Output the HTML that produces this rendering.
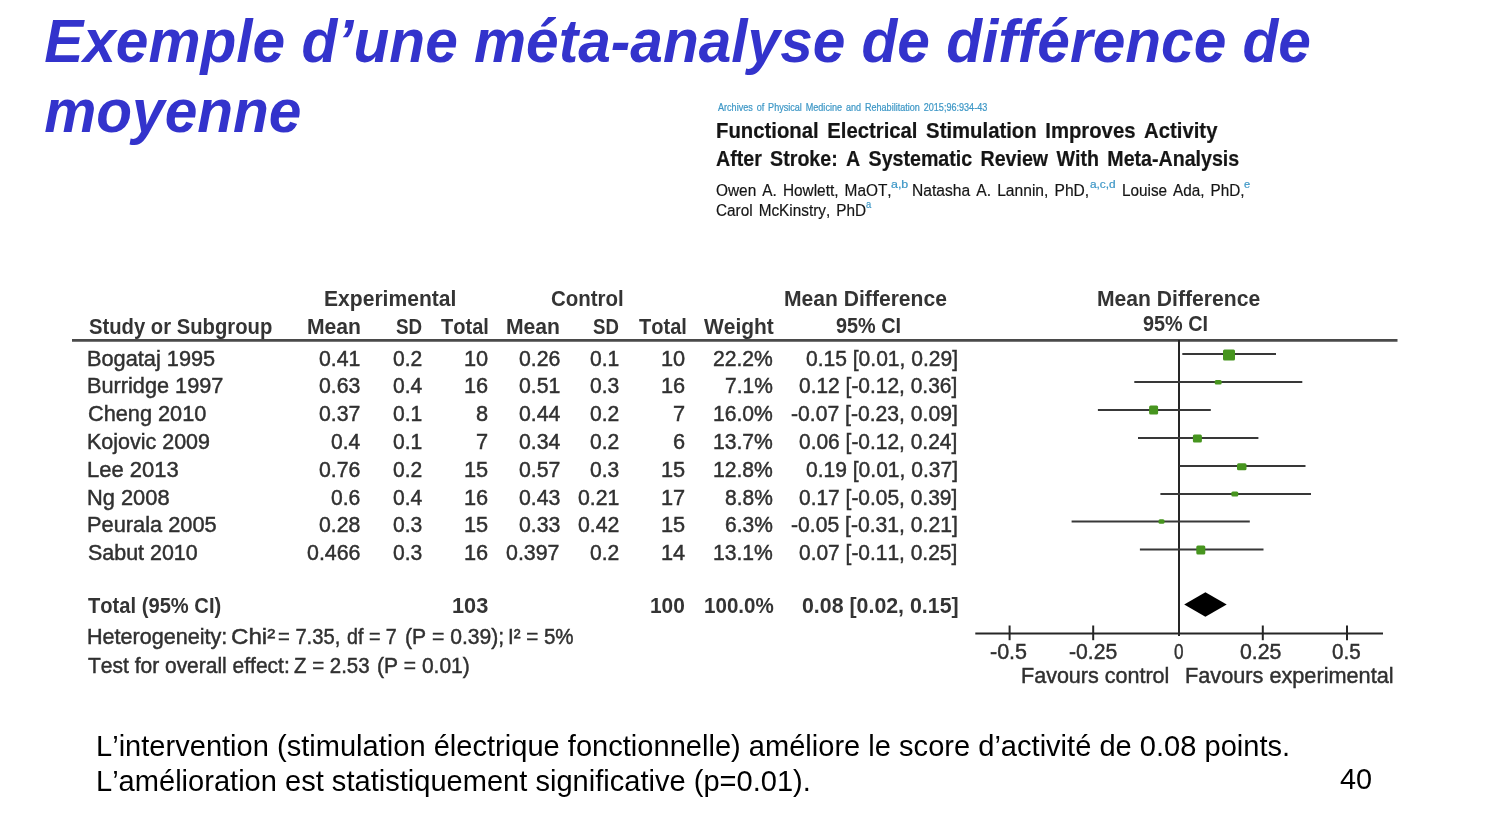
<!DOCTYPE html>
<html><head><meta charset="utf-8"><title>Slide 40</title>
<style>
html,body{margin:0;padding:0;background:#fff;}
body{width:1500px;height:827px;position:relative;overflow:hidden;font-family:"Liberation Sans",sans-serif;font-kerning:none;font-variant-ligatures:none;}
.t{position:absolute;white-space:pre;line-height:1;font-size:21.8px;color:#303030;transform-origin:0 84.65%;}
.b{font-weight:bold;}
#tbl{filter:blur(0.55px);}
#tbl .t{-webkit-text-stroke:0.45px #303030;}
#tbl .b{-webkit-text-stroke:0;color:#343434;}
.fp{filter:blur(0.5px);}
.fp{position:absolute;left:0;top:0;}
.ti{position:absolute;margin:0;line-height:1;font-weight:bold;font-style:italic;color:#3333cc;white-space:nowrap;transform-origin:0 84.65%;}
.no{position:absolute;line-height:1;color:#000;white-space:nowrap;transform-origin:0 84.65%;}
#art .t{-webkit-text-stroke:0.2px currentColor;}
#art .t:first-child{-webkit-text-stroke:0.22px currentColor;}
</style></head><body>
<div class="ti" style="left:44.20px;top:13.40px;font-size:58.6px;transform:scale(1.0000,1.0400);">Exemple d’une méta-analyse de différence de</div>
<div class="ti" style="left:44.20px;top:83.40px;font-size:58.6px;transform:scale(1.0000,1.0400);">moyenne</div>
<div id="art">
<span class="t" style="left:717.78px;top:101.53px;transform:scaleX(0.8557);font-size:10.6px;color:#3d97c6;word-spacing:1.6px;">Archives of Physical Medicine and Rehabilitation 2015;96:934-43</span>
<span class="t b" style="left:716.04px;top:119.55px;transform:scaleX(0.9312);color:#151515;word-spacing:3.2px;">Functional Electrical Stimulation Improves Activity</span>
<span class="t b" style="left:716.11px;top:147.55px;transform:scaleX(0.9002);color:#151515;word-spacing:3.2px;">After Stroke: A Systematic Review With Meta-Analysis</span>
<span class="t" style="left:715.67px;top:182.27px;transform:scaleX(0.8856);font-size:17.4px;color:#151515;word-spacing:2.0px;">Owen A. Howlett, MaOT,</span>
<span class="t" style="left:890.67px;top:179.77px;transform:scaleX(1.2164);font-size:10.2px;color:#3d97c6;">a,b</span>
<span class="t" style="left:912.12px;top:182.27px;transform:scaleX(0.8976);font-size:17.4px;color:#151515;word-spacing:2.0px;">Natasha A. Lannin, PhD,</span>
<span class="t" style="left:1090.10px;top:179.77px;transform:scaleX(1.1607);font-size:10.2px;color:#3d97c6;">a,c,d</span>
<span class="t" style="left:1121.74px;top:182.27px;transform:scaleX(0.8796);font-size:17.4px;color:#151515;word-spacing:2.0px;">Louise Ada, PhD,</span>
<span class="t" style="left:1243.73px;top:179.77px;transform:scaleX(1.0864);font-size:10.2px;color:#3d97c6;">e</span>
<span class="t" style="left:715.62px;top:202.27px;transform:scaleX(0.8814);font-size:17.4px;color:#151515;word-spacing:2.0px;">Carol McKinstry, PhD</span>
<span class="t" style="left:865.80px;top:199.77px;transform:scaleX(0.9161);font-size:10.2px;color:#3d97c6;">a</span>
</div>
<svg class="fp" width="1500" height="827" viewBox="0 0 1500 827">
<line x1="72" y1="340.4" x2="1397.5" y2="340.4" stroke="#4a4a4a" stroke-width="2.6"/>
<line x1="1179.0" y1="340" x2="1179.0" y2="636" stroke="#262626" stroke-width="2"/>
<line x1="975.3" y1="633.4" x2="1383" y2="633.4" stroke="#262626" stroke-width="2"/>
<line x1="1009.6" y1="625.5" x2="1009.6" y2="640.2" stroke="#262626" stroke-width="2"/>
<line x1="1093.2" y1="625.5" x2="1093.2" y2="640.2" stroke="#262626" stroke-width="2"/>
<line x1="1262.8" y1="625.5" x2="1262.8" y2="640.2" stroke="#262626" stroke-width="2"/>
<line x1="1347" y1="625.5" x2="1347" y2="640.2" stroke="#262626" stroke-width="2"/>
<line x1="1182.3" y1="354" x2="1276" y2="354" stroke="#383838" stroke-width="2"/>
<line x1="1134.3" y1="382" x2="1302.3" y2="382" stroke="#383838" stroke-width="2"/>
<line x1="1097.9" y1="410" x2="1210.8" y2="410" stroke="#383838" stroke-width="2"/>
<line x1="1138" y1="438" x2="1258.4" y2="438" stroke="#383838" stroke-width="2"/>
<line x1="1179.5" y1="466" x2="1305.5" y2="466" stroke="#383838" stroke-width="2"/>
<line x1="1160.4" y1="494" x2="1311" y2="494" stroke="#383838" stroke-width="2"/>
<line x1="1071.6" y1="521.5" x2="1249.8" y2="521.5" stroke="#383838" stroke-width="2"/>
<line x1="1139.9" y1="549.5" x2="1263.5" y2="549.5" stroke="#383838" stroke-width="2"/>
<g style="filter:blur(0.7px)">
<rect x="1223.0" y="349.5" width="12" height="11" rx="1.5" fill="#47951f"/>
<rect x="1214.7" y="380.1" width="7" height="4.5" rx="1.5" fill="#47951f"/>
<rect x="1149.1" y="405.5" width="9" height="9" rx="1.5" fill="#47951f"/>
<rect x="1192.9" y="434.5" width="9" height="8" rx="1.5" fill="#47951f"/>
<rect x="1237.0" y="463.3" width="9.5" height="7" rx="1.5" fill="#47951f"/>
<rect x="1231.3" y="491.5" width="7" height="5" rx="1.5" fill="#47951f"/>
<rect x="1158.5" y="519.2" width="6" height="4.5" rx="1.5" fill="#47951f"/>
<rect x="1196.3" y="545.5" width="9" height="9" rx="1.5" fill="#47951f"/>
</g>
<polygon points="1184.2,604.5 1205.4,592.3 1226.7,604.5 1205.4,616.7" fill="#000"/>
</svg>
<div id="tbl">
<span class="t" style="left:87.22px;top:347.55px;transform:scale(0.9977,1.0400);">Bogataj 1995</span>
<span class="t" style="left:319.00px;top:347.55px;transform:scale(0.9757,1.0400);">0.41</span>
<span class="t" style="left:393.00px;top:347.55px;transform:scale(0.9668,1.0400);">0.2</span>
<span class="t" style="left:463.90px;top:347.55px;transform:scale(0.9980,1.0400);">10</span>
<span class="t" style="left:518.50px;top:347.55px;transform:scale(0.9757,1.0400);">0.26</span>
<span class="t" style="left:590.10px;top:347.55px;transform:scale(0.9668,1.0400);">0.1</span>
<span class="t" style="left:660.90px;top:347.55px;transform:scale(0.9980,1.0400);">10</span>
<span class="t" style="left:713.30px;top:347.55px;transform:scale(0.9691,1.0400);">22.2%</span>
<span class="t" style="left:805.60px;top:347.55px;transform:scale(0.9646,1.0400);">0.15 [0.01, 0.29]</span>
<span class="t" style="left:87.22px;top:375.35px;transform:scale(0.9958,1.0400);">Burridge 1997</span>
<span class="t" style="left:319.00px;top:375.35px;transform:scale(0.9757,1.0400);">0.63</span>
<span class="t" style="left:393.00px;top:375.35px;transform:scale(0.9668,1.0400);">0.4</span>
<span class="t" style="left:463.90px;top:375.35px;transform:scale(0.9980,1.0400);">16</span>
<span class="t" style="left:518.50px;top:375.35px;transform:scale(0.9757,1.0400);">0.51</span>
<span class="t" style="left:590.10px;top:375.35px;transform:scale(0.9668,1.0400);">0.3</span>
<span class="t" style="left:660.90px;top:375.35px;transform:scale(0.9980,1.0400);">16</span>
<span class="t" style="left:725.40px;top:375.35px;transform:scale(0.9620,1.0400);">7.1%</span>
<span class="t" style="left:799.30px;top:375.35px;transform:scale(0.9604,1.0400);">0.12 [-0.12, 0.36]</span>
<span class="t" style="left:87.90px;top:403.15px;transform:scale(0.9963,1.0400);">Cheng 2010</span>
<span class="t" style="left:319.00px;top:403.15px;transform:scale(0.9757,1.0400);">0.37</span>
<span class="t" style="left:393.00px;top:403.15px;transform:scale(0.9668,1.0400);">0.1</span>
<span class="t" style="left:476.00px;top:403.15px;transform:scale(0.9980,1.0400);">8</span>
<span class="t" style="left:518.50px;top:403.15px;transform:scale(0.9757,1.0400);">0.44</span>
<span class="t" style="left:590.10px;top:403.15px;transform:scale(0.9668,1.0400);">0.2</span>
<span class="t" style="left:673.00px;top:403.15px;transform:scale(0.9980,1.0400);">7</span>
<span class="t" style="left:713.30px;top:403.15px;transform:scale(0.9691,1.0400);">16.0%</span>
<span class="t" style="left:790.70px;top:403.15px;transform:scale(0.9698,1.0400);">-0.07 [-0.23, 0.09]</span>
<span class="t" style="left:87.24px;top:430.95px;transform:scale(0.9852,1.0400);">Kojovic 2009</span>
<span class="t" style="left:331.10px;top:430.95px;transform:scale(0.9668,1.0400);">0.4</span>
<span class="t" style="left:393.00px;top:430.95px;transform:scale(0.9668,1.0400);">0.1</span>
<span class="t" style="left:476.00px;top:430.95px;transform:scale(0.9980,1.0400);">7</span>
<span class="t" style="left:518.50px;top:430.95px;transform:scale(0.9757,1.0400);">0.34</span>
<span class="t" style="left:590.10px;top:430.95px;transform:scale(0.9668,1.0400);">0.2</span>
<span class="t" style="left:673.00px;top:430.95px;transform:scale(0.9980,1.0400);">6</span>
<span class="t" style="left:713.30px;top:430.95px;transform:scale(0.9691,1.0400);">13.7%</span>
<span class="t" style="left:799.30px;top:430.95px;transform:scale(0.9604,1.0400);">0.06 [-0.12, 0.24]</span>
<span class="t" style="left:87.20px;top:458.75px;transform:scale(1.0082,1.0400);">Lee 2013</span>
<span class="t" style="left:319.00px;top:458.75px;transform:scale(0.9757,1.0400);">0.76</span>
<span class="t" style="left:393.00px;top:458.75px;transform:scale(0.9668,1.0400);">0.2</span>
<span class="t" style="left:463.90px;top:458.75px;transform:scale(0.9980,1.0400);">15</span>
<span class="t" style="left:518.50px;top:458.75px;transform:scale(0.9757,1.0400);">0.57</span>
<span class="t" style="left:590.10px;top:458.75px;transform:scale(0.9668,1.0400);">0.3</span>
<span class="t" style="left:660.90px;top:458.75px;transform:scale(0.9980,1.0400);">15</span>
<span class="t" style="left:713.30px;top:458.75px;transform:scale(0.9691,1.0400);">12.8%</span>
<span class="t" style="left:805.60px;top:458.75px;transform:scale(0.9646,1.0400);">0.19 [0.01, 0.37]</span>
<span class="t" style="left:87.21px;top:486.55px;transform:scale(1.0014,1.0400);">Ng 2008</span>
<span class="t" style="left:331.10px;top:486.55px;transform:scale(0.9668,1.0400);">0.6</span>
<span class="t" style="left:393.00px;top:486.55px;transform:scale(0.9668,1.0400);">0.4</span>
<span class="t" style="left:463.90px;top:486.55px;transform:scale(0.9980,1.0400);">16</span>
<span class="t" style="left:518.50px;top:486.55px;transform:scale(0.9757,1.0400);">0.43</span>
<span class="t" style="left:578.00px;top:486.55px;transform:scale(0.9757,1.0400);">0.21</span>
<span class="t" style="left:660.90px;top:486.55px;transform:scale(0.9980,1.0400);">17</span>
<span class="t" style="left:725.40px;top:486.55px;transform:scale(0.9620,1.0400);">8.8%</span>
<span class="t" style="left:799.30px;top:486.55px;transform:scale(0.9604,1.0400);">0.17 [-0.05, 0.39]</span>
<span class="t" style="left:87.21px;top:514.35px;transform:scale(1.0001,1.0400);">Peurala 2005</span>
<span class="t" style="left:319.00px;top:514.35px;transform:scale(0.9757,1.0400);">0.28</span>
<span class="t" style="left:393.00px;top:514.35px;transform:scale(0.9668,1.0400);">0.3</span>
<span class="t" style="left:463.90px;top:514.35px;transform:scale(0.9980,1.0400);">15</span>
<span class="t" style="left:518.50px;top:514.35px;transform:scale(0.9757,1.0400);">0.33</span>
<span class="t" style="left:578.00px;top:514.35px;transform:scale(0.9757,1.0400);">0.42</span>
<span class="t" style="left:660.90px;top:514.35px;transform:scale(0.9980,1.0400);">15</span>
<span class="t" style="left:725.40px;top:514.35px;transform:scale(0.9620,1.0400);">6.3%</span>
<span class="t" style="left:790.70px;top:514.35px;transform:scale(0.9698,1.0400);">-0.05 [-0.31, 0.21]</span>
<span class="t" style="left:88.03px;top:542.15px;transform:scale(0.9838,1.0400);">Sabut 2010</span>
<span class="t" style="left:306.90px;top:542.15px;transform:scale(0.9807,1.0400);">0.466</span>
<span class="t" style="left:393.00px;top:542.15px;transform:scale(0.9668,1.0400);">0.3</span>
<span class="t" style="left:463.90px;top:542.15px;transform:scale(0.9980,1.0400);">16</span>
<span class="t" style="left:506.40px;top:542.15px;transform:scale(0.9807,1.0400);">0.397</span>
<span class="t" style="left:590.10px;top:542.15px;transform:scale(0.9668,1.0400);">0.2</span>
<span class="t" style="left:660.90px;top:542.15px;transform:scale(0.9980,1.0400);">14</span>
<span class="t" style="left:713.30px;top:542.15px;transform:scale(0.9691,1.0400);">13.1%</span>
<span class="t" style="left:799.30px;top:542.15px;transform:scale(0.9604,1.0400);">0.07 [-0.11, 0.25]</span>
<span class="t b" style="left:323.59px;top:288.05px;transform:scale(0.9671,1.0400);">Experimental</span>
<span class="t b" style="left:551.16px;top:288.05px;transform:scale(0.9393,1.0400);">Control</span>
<span class="t b" style="left:783.79px;top:288.05px;transform:scale(0.9675,1.0400);">Mean Difference</span>
<span class="t b" style="left:1096.89px;top:288.05px;transform:scale(0.9688,1.0400);">Mean Difference</span>
<span class="t b" style="left:89.22px;top:315.95px;transform:scale(0.9287,1.0400);">Study or Subgroup</span>
<span class="t b" style="left:306.79px;top:315.95px;transform:scale(0.9695,1.0400);">Mean</span>
<span class="t b" style="left:396.06px;top:315.95px;transform:scale(0.8629,1.0400);">SD</span>
<span class="t b" style="left:441.48px;top:315.95px;transform:scale(0.9188,1.0400);">Total</span>
<span class="t b" style="left:505.59px;top:315.95px;transform:scale(0.9695,1.0400);">Mean</span>
<span class="t b" style="left:593.46px;top:315.95px;transform:scale(0.8525,1.0400);">SD</span>
<span class="t b" style="left:638.88px;top:315.95px;transform:scale(0.9188,1.0400);">Total</span>
<span class="t b" style="left:704.48px;top:315.95px;transform:scale(0.9605,1.0400);">Weight</span>
<span class="t b" style="left:836.31px;top:314.85px;transform:scale(0.9094,1.0400);">95% CI</span>
<span class="t b" style="left:1142.61px;top:312.95px;transform:scale(0.9094,1.0400);">95% CI</span>
<span class="t b" style="left:88.27px;top:595.25px;transform:scale(0.9243,1.0400);">Total (95% CI)</span>
<span class="t b" style="left:452.33px;top:595.25px;transform:scale(0.9967,1.0400);">103</span>
<span class="t b" style="left:650.48px;top:595.25px;transform:scale(0.9588,1.0400);">100</span>
<span class="t b" style="left:703.70px;top:595.25px;transform:scale(0.9446,1.0400);">100.0%</span>
<span class="t b" style="left:801.56px;top:595.25px;transform:scale(0.9792,1.0400);">0.08 [0.02, 0.15]</span>
<span class="t" style="left:87.43px;top:626.25px;transform:scale(0.9898,1.0400);">Heterogeneity:</span>
<span class="t" style="left:230.78px;top:626.25px;transform:scale(1.1054,1.0400);">Chi²</span>
<span class="t" style="left:277.51px;top:626.25px;transform:scale(0.9261,1.0400);">= 7.35,</span>
<span class="t" style="left:347.17px;top:626.25px;transform:scale(0.9033,1.0400);">df = 7</span>
<span class="t" style="left:404.69px;top:626.25px;transform:scale(0.9689,1.0400);">(P = 0.39);</span>
<span class="t" style="left:507.60px;top:626.25px;transform:scale(0.9420,1.0400);">I² = 5%</span>
<span class="t" style="left:88.13px;top:654.55px;transform:scale(0.9627,1.0400);">Test for overall effect:</span>
<span class="t" style="left:294.35px;top:654.55px;transform:scale(0.9374,1.0400);">Z = 2.53</span>
<span class="t" style="left:376.70px;top:654.55px;transform:scale(0.9634,1.0400);">(P = 0.01)</span>
<span class="t" style="left:989.54px;top:640.75px;transform:scale(0.9865,1.0400);">-0.5</span>
<span class="t" style="left:1068.76px;top:640.75px;transform:scale(0.9706,1.0400);">-0.25</span>
<span class="t" style="left:1173.83px;top:640.75px;transform:scale(0.7869,1.0400);">0</span>
<span class="t" style="left:1240.47px;top:640.75px;transform:scale(0.9763,1.0400);">0.25</span>
<span class="t" style="left:1332.39px;top:640.75px;transform:scale(0.9461,1.0400);">0.5</span>
<span class="t" style="left:1021.03px;top:665.45px;transform:scale(0.9878,1.0400);">Favours control</span>
<span class="t" style="left:1185.22px;top:665.45px;transform:scale(0.9953,1.0400);">Favours experimental</span>
</div>
<span class="t" style="left:95.82px;top:732.25px;transform:scale(1.0024,1.0300);font-size:29px;color:#000;">L’intervention (stimulation électrique fonctionnelle) améliore le score d’activité de 0.08 points.</span>
<span class="t" style="left:95.82px;top:767.25px;transform:scale(1.0022,1.0300);font-size:29px;color:#000;">L’amélioration est statistiquement significative (p=0.01).</span>
<span class="t" style="left:1340.04px;top:765.45px;transform:scale(0.9948,1.0300);font-size:29px;color:#000;">40</span>
</body></html>
